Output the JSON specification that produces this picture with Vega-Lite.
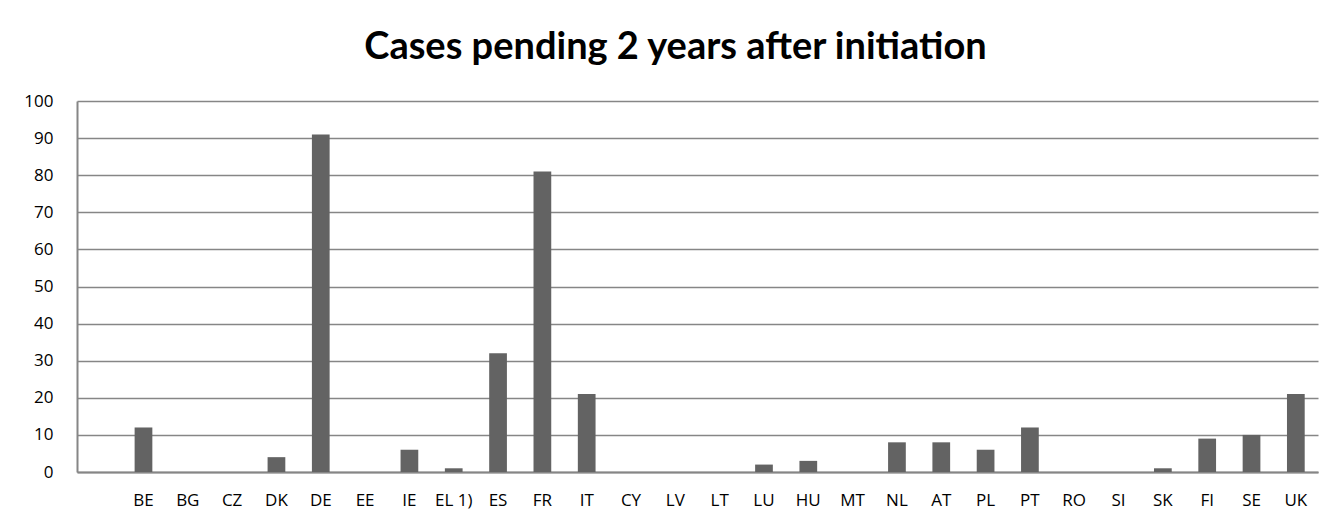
{
  "$schema": "https://vega.github.io/schema/vega-lite/v6.json",
  "width": 1241,
  "height": 371,
  "autosize": {"type": "none"},
  "padding": {"left": 77, "top": 101, "right": 13, "bottom": 51},
  "background": "white",
  "title": {
    "text": "Cases pending 2 years after initiation",
    "font": "Lato",
    "fontWeight": "bold",
    "fontSize": 38,
    "color": "black",
    "anchor": "middle",
    "offset": 25,
    "dx": -22
  },
  "data": {
    "values": [
      {"country": "BE", "value": 12},
      {"country": "BG", "value": 0},
      {"country": "CZ", "value": 0},
      {"country": "DK", "value": 4},
      {"country": "DE", "value": 91},
      {"country": "EE", "value": 0},
      {"country": "IE", "value": 6},
      {"country": "EL 1)", "value": 1},
      {"country": "ES", "value": 32},
      {"country": "FR", "value": 81},
      {"country": "IT", "value": 21},
      {"country": "CY", "value": 0},
      {"country": "LV", "value": 0},
      {"country": "LT", "value": 0},
      {"country": "LU", "value": 2},
      {"country": "HU", "value": 3},
      {"country": "MT", "value": 0},
      {"country": "NL", "value": 8},
      {"country": "AT", "value": 8},
      {"country": "PL", "value": 6},
      {"country": "PT", "value": 12},
      {"country": "RO", "value": 0},
      {"country": "SI", "value": 0},
      {"country": "SK", "value": 1},
      {"country": "FI", "value": 9},
      {"country": "SE", "value": 10},
      {"country": "UK", "value": 21}
    ]
  },
  "mark": {"type": "bar", "color": "#636363"},
  "encoding": {
    "x": {
      "field": "country",
      "type": "nominal",
      "sort": null,
      "scale": {
        "domain": [" ", "BE", "BG", "CZ", "DK", "DE", "EE", "IE", "EL 1)", "ES", "FR", "IT", "CY", "LV", "LT", "LU", "HU", "MT", "NL", "AT", "PL", "PT", "RO", "SI", "SK", "FI", "SE", "UK"],
        "paddingInner": 0.6,
        "paddingOuter": 0.3
      },
      "axis": {
        "title": null,
        "labelAngle": 0,
        "labelFont": "Open Sans",
        "labelFontSize": 17,
        "labelColor": "black",
        "labelPadding": 20,
        "ticks": false,
        "domainColor": "#868686",
        "domainWidth": 2,
        "grid": false
      }
    },
    "y": {
      "field": "value",
      "type": "quantitative",
      "scale": {"domain": [0, 100], "nice": false},
      "axis": {
        "title": null,
        "values": [0, 10, 20, 30, 40, 50, 60, 70, 80, 90, 100],
        "labelFont": "Open Sans",
        "labelFontSize": 17,
        "labelColor": "black",
        "labelPadding": 24,
        "ticks": false,
        "domainColor": "#868686",
        "domainWidth": 2,
        "gridColor": "#868686",
        "gridWidth": 1.5
      }
    }
  },
  "config": {"view": {"stroke": null}}
}
